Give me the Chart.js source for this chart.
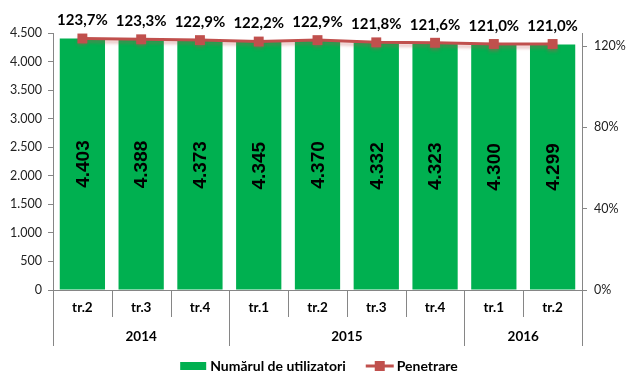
<!DOCTYPE html>
<html>
<head>
<meta charset="utf-8">
<script src="https://cdn.jsdelivr.net/npm/chart.js@4.4.1/dist/chart.umd.min.js"></script>
<style>
  html, body { margin: 0; padding: 0; background: #fff; }
  #wrap { width: 634px; height: 387px; position: relative; }
</style>
</head>
<body>
<div id="wrap"><canvas id="myChart"></canvas></div>
<script>
// data
const quarters = ['tr.2', 'tr.3', 'tr.4', 'tr.1', 'tr.2', 'tr.3', 'tr.4', 'tr.1', 'tr.2'];
const years = ['2014', '2015', '2016'];
const yearSpans = [3, 4, 2];
const users = [4403, 4388, 4373, 4345, 4370, 4332, 4323, 4300, 4299];
const penetration = [123.7, 123.3, 122.9, 122.2, 122.9, 121.8, 121.6, 121.0, 121.0];
const leftTicks = [0, 500, 1000, 1500, 2000, 2500, 3000, 3500, 4000, 4500];
const rightTicks = [0, 40, 80, 120];

const GREEN = '#00B050';
const RED = '#C0504D';
const AXIS = '#868686';

const fmtThousands = v => String(v).replace(/\B(?=(\d{3})+(?!\d))/g, '.');
const fmtPct = v => v.toFixed(1).replace('.', ',') + '%';

// labels on the bars and above the line
const labelsPlugin = {
  id: 'labels',
  beforeDatasetDraw(chart, args) {
    if (args.index === 1) {
      const c = chart.ctx;
      c.save();
      c.shadowColor = 'rgba(192,80,77,0.35)';
      c.shadowOffsetY = 3;
      c.shadowBlur = 3;
    }
  },
  afterDatasetDraw(chart, args) {
    if (args.index === 1) chart.ctx.restore();
  },
  afterDatasetsDraw(chart) {
    const c = chart.ctx;
    const barMeta = chart.getDatasetMeta(0);
    c.save();
    c.fillStyle = '#000';
    c.font = 'bold 19px "Liberation Sans"';
    c.textAlign = 'center';
    c.textBaseline = 'middle';
    barMeta.data.forEach((bar, i) => {
      c.save();
      c.translate(bar.x, (bar.y + bar.base) / 2);
      c.rotate(-Math.PI / 2);
      c.fillText(fmtThousands(users[i]), 0, 1);
      c.restore();
    });
    const lineMeta = chart.getDatasetMeta(1);
    c.font = 'bold 15px Lato';
    lineMeta.data.forEach((pt, i) => {
      c.fillText(fmtPct(penetration[i]), pt.x, pt.y - 18);
    });
    c.restore();
  }
};

// two level category axis + legend
const axisPlugin = {
  id: 'multiAxis',
  afterDraw(chart) {
    const c = chart.ctx;
    const x = chart.scales.x;
    const area = chart.chartArea;
    const step = (area.right - area.left) / quarters.length;
    const base = area.bottom;
    c.save();
    c.strokeStyle = AXIS;
    c.lineWidth = 1;
    c.fillStyle = '#000';
    c.textAlign = 'center';
    c.textBaseline = 'middle';
    c.font = 'bold 13.5px Lato';
    quarters.forEach((q, i) => {
      c.fillText(q, x.getPixelForValue(i), base + 18);
    });
    // short separators
    for (let i = 1; i < quarters.length; i++) {
      const px = Math.round(area.left + step * i) + 0.5;
      c.beginPath();
      c.moveTo(px, base);
      c.lineTo(px, base + 27);
      c.stroke();
    }
    // year groups
    let start = 0;
    const edges = [area.left];
    years.forEach((y, k) => {
      const end = start + yearSpans[k];
      const l = area.left + step * start;
      const r = area.left + step * end;
      c.fillText(y, (l + r) / 2, base + 47);
      edges.push(r);
      start = end;
    });
    edges.forEach(e => {
      const px = Math.round(e) + 0.5;
      c.beginPath();
      c.moveTo(px, base);
      c.lineTo(px, base + 56);
      c.stroke();
    });

    // legend
    const ly = 366;
    c.font = 'bold 14px Lato';
    c.textAlign = 'left';
    const t1 = 'Numărul de utilizatori';
    const t2 = 'Penetrare';
    const w1 = c.measureText(t1).width;
    const w2 = c.measureText(t2).width;
    const total = 26 + 4 + w1 + 20 + 28 + 3 + w2;
    let lx = (chart.width - total) / 2 + 2;
    c.fillStyle = GREEN;
    c.fillRect(lx, ly - 4, 26, 8);
    c.fillStyle = '#000';
    c.fillText(t1, lx + 30, ly);
    lx += 30 + w1 + 20;
    c.strokeStyle = RED;
    c.lineWidth = 3;
    c.beginPath();
    c.moveTo(lx, ly);
    c.lineTo(lx + 28, ly);
    c.stroke();
    c.fillStyle = RED;
    c.fillRect(lx + 14 - 5, ly - 5, 10, 10);
    c.fillStyle = '#000';
    c.fillText(t2, lx + 31, ly);
    c.restore();
  }
};

const ctx = document.getElementById('myChart').getContext('2d');
const chart = new Chart(ctx, {
  type: 'bar',
  data: {
    labels: quarters,
    datasets: [{
      label: 'Numărul de utilizatori',
      data: users,
      backgroundColor: GREEN,
      barPercentage: 0.77,
      categoryPercentage: 1,
      yAxisID: 'y',
      order: 1
    }, {
      type: 'line',
      label: 'Penetrare',
      data: penetration,
      borderColor: RED,
      backgroundColor: RED,
      borderWidth: 3,
      pointStyle: 'rect',
      pointRadius: 7,
      pointHoverRadius: 7,
      pointBackgroundColor: RED,
      pointBorderColor: RED,
      pointBorderWidth: 0,
      yAxisID: 'y1',
      order: 0
    }]
  },
  options: {
    responsive: true,
    maintainAspectRatio: false,
    animation: false,
    layout: { padding: { top: 33, left: 0, right: 0, bottom: 41 } },
    plugins: {
      legend: { display: false },
      tooltip: { enabled: false }
    },
    scales: {
      x: {
        grid: { display: false },
        border: { display: true, color: AXIS },
        ticks: { display: false },
        afterFit: s => { s.height = 56; }
      },
      y: {
        position: 'left',
        min: 0,
        max: 4500,
        afterBuildTicks: s => { s.ticks = leftTicks.map(v => ({ value: v })); },
        afterFit: s => { s.width = 53; },
        grid: { drawOnChartArea: false, drawTicks: true, tickLength: 5, color: AXIS },
        border: { display: true, color: AXIS },
        ticks: {
          padding: 6,
          color: '#222',
          font: { family: 'Lato', size: 12.5 },
          callback: v => fmtThousands(v)
        }
      },
      y1: {
        position: 'right',
        min: 0,
        max: 126.4,
        afterBuildTicks: s => { s.ticks = rightTicks.map(v => ({ value: v })); },
        afterFit: s => { s.width = 52; },
        grid: { drawOnChartArea: false, drawTicks: true, tickLength: 5, color: AXIS },
        border: { display: true, color: AXIS },
        ticks: {
          padding: 7,
          color: '#222',
          font: { family: 'Lato', size: 12.5 },
          callback: v => v + '%'
        }
      }
    }
  },
  plugins: [labelsPlugin, axisPlugin]
});
</script>
</body>
</html>
